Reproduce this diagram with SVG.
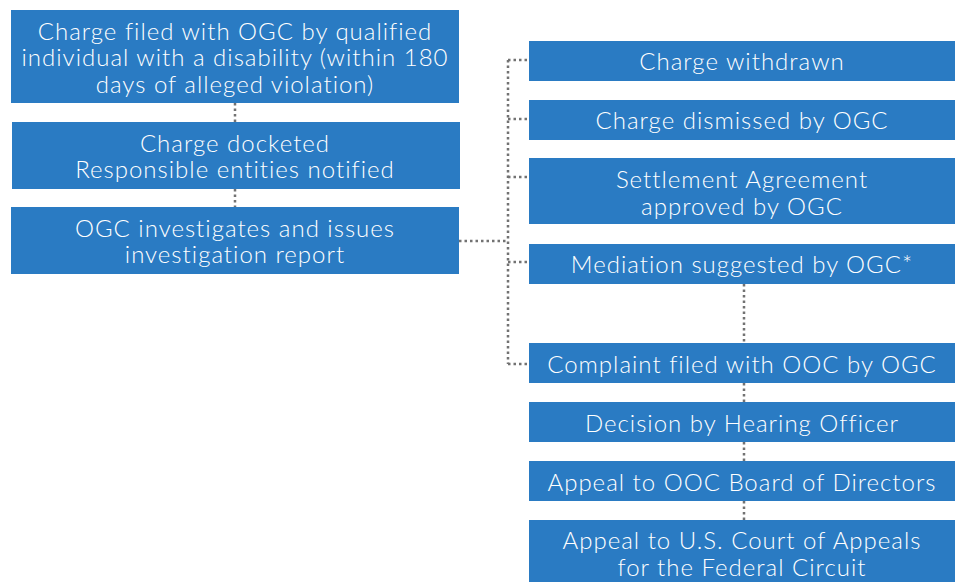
<svg xmlns="http://www.w3.org/2000/svg" width="958" height="582" viewBox="0 0 958 582">
  <style>
    .box { fill: #2a7bc3; }
    .lbl { fill: #ffffff; font-family: Lato, "Open Sans", "Liberation Sans", sans-serif; font-size: 24px; font-weight: 300; letter-spacing: 1px; text-anchor: middle; }
    .dot { fill: none; stroke: #727272; stroke-width: 2.5; stroke-dasharray: 2.5 3; }
  </style>
  <rect width="958" height="582" fill="#ffffff"/>

  <!-- dotted connectors -->
  <g id="connectors">
    <path class="dot" d="M235 103 V122"/>
    <path class="dot" d="M235 189 V207"/>
    <path class="dot" d="M459 241 H508"/>
    <path class="dot" d="M508 60 V364"/>
    <path class="dot" d="M508 60 H529"/>
    <path class="dot" d="M508 119 H529"/>
    <path class="dot" d="M508 177 H529"/>
    <path class="dot" d="M508 262 H529"/>
    <path class="dot" d="M508 364 H529"/>
    <path class="dot" d="M744 284 V343"/>
    <path class="dot" d="M744 383 V402"/>
    <path class="dot" d="M744 442 V461"/>
    <path class="dot" d="M744 501 V520"/>
  </g>

  <!-- left column -->
  <g id="charge-filed">
    <rect class="box" x="11" y="10" width="448" height="93"/>
    <text class="lbl" x="235" y="39.5">Charge filed with OGC by qualified</text>
    <text class="lbl" x="235" y="66">individual with a disability (within 180</text>
    <text class="lbl" x="235" y="92.5">days of alleged violation)</text>
  </g>
  <g id="charge-docketed">
    <rect class="box" x="12" y="122" width="448" height="67"/>
    <text class="lbl" x="235" y="151.5">Charge docketed</text>
    <text class="lbl" x="235" y="178">Responsible entities notified</text>
  </g>
  <g id="investigation">
    <rect class="box" x="11" y="207" width="448" height="67"/>
    <text class="lbl" x="235" y="236.5">OGC investigates and issues</text>
    <text class="lbl" x="235" y="263">investigation report</text>
  </g>

  <!-- right column -->
  <g id="withdrawn">
    <rect class="box" x="529" y="41" width="426" height="40"/>
    <text class="lbl" x="742" y="70">Charge withdrawn</text>
  </g>
  <g id="dismissed">
    <rect class="box" x="529" y="100" width="426" height="40"/>
    <text class="lbl" x="742" y="129">Charge dismissed by OGC</text>
  </g>
  <g id="settlement">
    <rect class="box" x="529" y="158" width="426" height="66"/>
    <text class="lbl" x="742" y="188">Settlement Agreement</text>
    <text class="lbl" x="742" y="215">approved by OGC</text>
  </g>
  <g id="mediation">
    <rect class="box" x="529" y="244" width="426" height="40"/>
    <text class="lbl" x="742" y="273">Mediation suggested by OGC*</text>
  </g>
  <g id="complaint">
    <rect class="box" x="529" y="343" width="426" height="40"/>
    <text class="lbl" x="742" y="373">Complaint filed with OOC by OGC</text>
  </g>
  <g id="decision">
    <rect class="box" x="529" y="402" width="426" height="40"/>
    <text class="lbl" x="742" y="432">Decision by Hearing Officer</text>
  </g>
  <g id="appeal-board">
    <rect class="box" x="529" y="461" width="426" height="40"/>
    <text class="lbl" x="742" y="491">Appeal to OOC Board of Directors</text>
  </g>
  <g id="appeal-court">
    <rect class="box" x="529" y="520" width="426" height="62"/>
    <text class="lbl" x="742" y="549">Appeal to U.S. Court of Appeals</text>
    <text class="lbl" x="742" y="576">for the Federal Circuit</text>
  </g>
</svg>
